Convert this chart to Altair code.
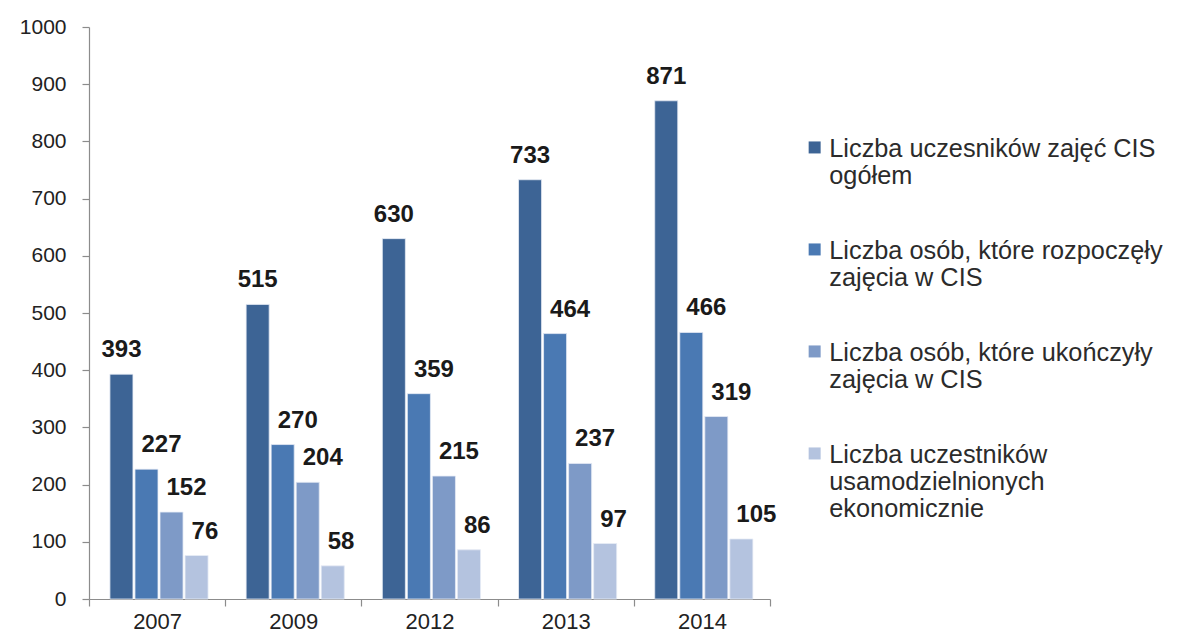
import altair as alt
import pandas as pd

years = ["2007", "2009", "2012", "2013", "2014"]
series = [
    "Liczba uczesników zajęć CIS|ogółem",
    "Liczba osób, które rozpoczęły|zajęcia w CIS",
    "Liczba osób, które ukończyły|zajęcia w CIS",
    "Liczba uczestników|usamodzielnionych|ekonomicznie",
]
s1 = [393, 515, 630, 733, 871]
s2 = [227, 270, 359, 464, 466]
s3 = [152, 204, 215, 237, 319]
s4 = [76, 58, 86, 97, 105]
colors = ["#3d6495", "#4a79b3", "#7e9ac7", "#b4c3df"]
y_ticks = list(range(0, 1001, 100))

rows = []
for name, vals in zip(series, [s1, s2, s3, s4]):
    for yr, v in zip(years, vals):
        rows.append({"year": yr, "series": name, "value": v})
df = pd.DataFrame(rows)

FONT = "Liberation Sans"

x_enc = alt.X(
    "year:N",
    sort=years,
    scale=alt.Scale(paddingInner=0, paddingOuter=0),
    axis=alt.Axis(
        title=None,
        labelAngle=0,
        tickBand="extent",
        tickSize=7,
        labelPadding=5,
        labelFontSize=22,
        labelFont=FONT,
        labelColor="#222222",
        domainColor="#8c8c8c",
        tickColor="#8c8c8c",
        domainWidth=1.2,
        tickWidth=1.2,
        grid=False,
    ),
)
xo_enc = alt.XOffset(
    "series:N",
    sort=series,
    scale=alt.Scale(domain=series, paddingInner=0.08, paddingOuter=0.76, align=0.55),
)
y_enc = alt.Y(
    "value:Q",
    scale=alt.Scale(domain=[0, 1000], nice=False),
    axis=alt.Axis(
        title=None,
        values=y_ticks,
        format="d",
        tickSize=7,
        labelPadding=16,
        labelFontSize=21,
        labelFont=FONT,
        labelColor="#222222",
        domainColor="#8c8c8c",
        tickColor="#8c8c8c",
        domainWidth=1.2,
        tickWidth=1.2,
        grid=False,
    ),
)

base = alt.Chart(df)

shadow = base.mark_bar(color="#bdbdbd", opacity=0.55, xOffset=2.5).encode(
    x=x_enc, xOffset=xo_enc, y=y_enc
)

bars = base.mark_bar(stroke="#e8eef7", strokeWidth=0.8).encode(
    x=x_enc,
    xOffset=xo_enc,
    y=y_enc,
    color=alt.Color(
        "series:N",
        sort=series,
        scale=alt.Scale(domain=series, range=colors),
        legend=alt.Legend(
            title=None,
            orient="none",
            legendX=713,
            legendY=97,
            direction="vertical",
            symbolType="M-1,0.8H1V2.8H-1Z",
            symbolSize=144,
            symbolStrokeWidth=0,
            labelBaseline="top",
            labelOffset=2,
            labelFontSize=25.3,
            labelFont=FONT,
            labelColor="#2b2b2b",
            labelLimit=420,
            rowPadding=36,
            labelExpr="split(datum.label, '|')",
        ),
    ),
)

lab_first = base.transform_filter(alt.datum.series == series[0]).mark_text(
    align="center", baseline="alphabetic", dy=-17, fontSize=24, fontWeight="bold",
    font=FONT, color="#1a1a1a"
).encode(x=x_enc, xOffset=xo_enc, y=y_enc, text="value:Q")

lab_rest = base.transform_filter(alt.datum.series != series[0]).mark_text(
    align="left", baseline="alphabetic", dx=-5, dy=-17, fontSize=24, fontWeight="bold",
    font=FONT, color="#1a1a1a"
).encode(x=x_enc, xOffset=xo_enc, y=y_enc, text="value:Q")

chart = (
    alt.layer(shadow, bars, lab_first, lab_rest)
    .properties(
        width=681,
        height=572,
        autosize=alt.AutoSizeParams(type="none"),
        padding={"left": 81, "top": 19, "right": 400, "bottom": 33},
        background="white",
    )
    .configure_view(stroke=None)
)

chart.save("out.html", embed_options={"renderer": "svg", "actions": False})
